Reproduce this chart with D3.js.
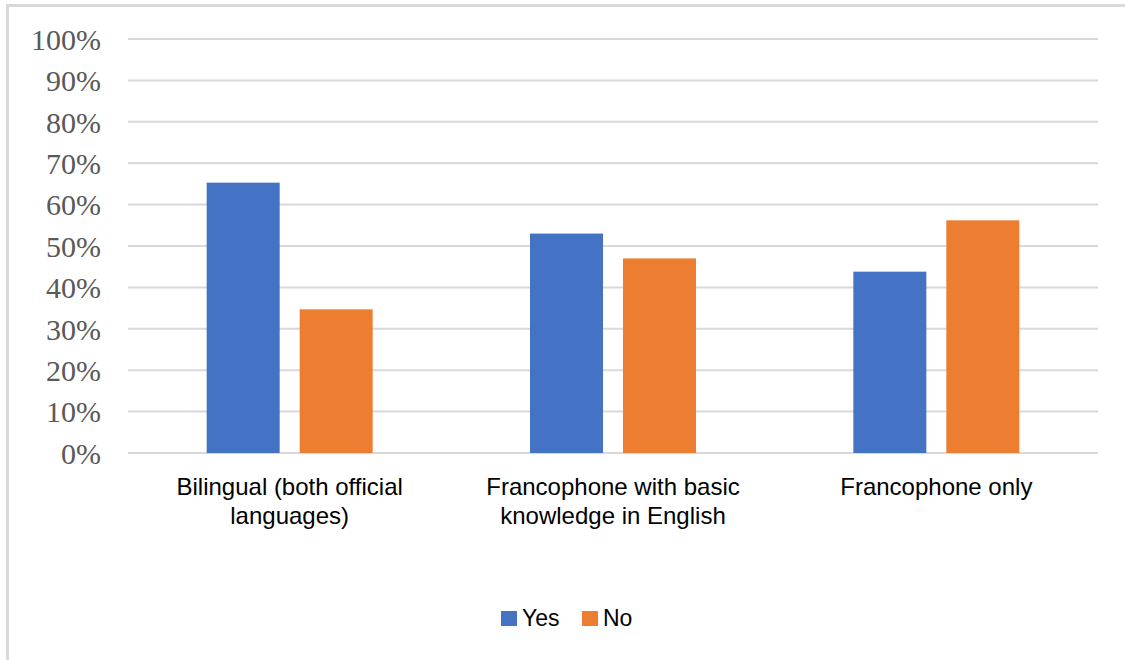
<!DOCTYPE html>
<html>
<head>
<meta charset="utf-8">
<script src="https://cdn.jsdelivr.net/npm/d3@7"></script>
<style>
  body { margin: 0; background: #fff; }
</style>
</head>
<body>
<div id="chart"></div>
<script>
const categories = [
  ['Bilingual (both official', 'languages)'],
  ['Francophone with basic', 'knowledge in English'],
  ['Francophone only']
]
const series = ['Yes', 'No']
const yesValues = [65.3, 53.0, 43.8]
const noValues = [34.7, 47.0, 56.2]
const yTicks = [0, 10, 20, 30, 40, 50, 60, 70, 80, 90, 100]
const colors = ['#4472c4', '#ed7d31']

const width = 1125, height = 660
const margin = { top: 39, left: 128, right: 27, bottom: 207 }

const svg = d3.select('#chart').append('svg')
  .attr('width', width)
  .attr('height', height)

// frame (only top and left edges show)
svg.append('line').attr('x1', 7).attr('x2', width).attr('y1', 5.5).attr('y2', 5.5)
  .attr('stroke', '#d9d9d9').attr('stroke-width', 3)
svg.append('line').attr('x1', 7.5).attr('x2', 7.5).attr('y1', 4).attr('y2', height)
  .attr('stroke', '#d9d9d9').attr('stroke-width', 3)

const x = d3.scaleBand()
  .domain(d3.range(categories.length))
  .range([margin.left, width - margin.right])

const y = d3.scaleLinear()
  .domain([0, 100])
  .range([height - margin.bottom, margin.top])

const x1 = d3.scaleBand()
  .domain(series)
  .range([0, x.bandwidth()])
  .paddingInner(0.215)
  .paddingOuter(0.846)

// gridlines
svg.append('g').selectAll('line')
  .data(yTicks).enter()
  .append('line')
  .attr('x1', margin.left)
  .attr('x2', width - margin.right)
  .attr('y1', d => y(d))
  .attr('y2', d => y(d))
  .attr('stroke', '#d9d9d9')
  .attr('stroke-width', 2)

// y labels
svg.append('g').selectAll('text')
  .data(yTicks).enter()
  .append('text')
  .attr('x', 101)
  .attr('y', d => y(d))
  .attr('dy', '0.36em')
  .attr('text-anchor', 'end')
  .attr('font-family', '"Liberation Serif", "Times New Roman", serif')
  .attr('font-size', 30)
  .attr('fill', '#595959')
  .text(d => d + '%')

// bars
const rows = categories.map((c, i) => ({ i, Yes: yesValues[i], No: noValues[i] }))
const groups = svg.append('g').selectAll('g')
  .data(rows).enter()
  .append('g')
  .attr('transform', d => 'translate(' + x(d.i) + ',0)')

groups.selectAll('rect')
  .data(d => series.map(s => ({ s, v: d[s] })))
  .enter().append('rect')
  .attr('x', d => x1(d.s))
  .attr('width', x1.bandwidth())
  .attr('y', d => y(d.v))
  .attr('height', d => y(0) - y(d.v))
  .attr('fill', (d, i) => colors[i])

// category labels
const catText = svg.append('g').selectAll('text')
  .data(categories).enter()
  .append('text')
  .attr('text-anchor', 'middle')
  .attr('font-family', '"Liberation Sans", Arial, sans-serif')
  .attr('font-size', 24)
  .attr('fill', '#000')

catText.selectAll('tspan')
  .data((d, i) => d.map(t => ({ t, i })))
  .enter().append('tspan')
  .attr('x', d => x(d.i) + x.bandwidth() / 2)
  .attr('y', (d, j) => 495 + j * 29)
  .text(d => d.t)

// legend
const legend = svg.append('g').attr('transform', 'translate(501,611)')
const legendX = [0, 81]
series.forEach((s, i) => {
  legend.append('rect')
    .attr('x', legendX[i]).attr('y', 0)
    .attr('width', 16).attr('height', 15)
    .attr('fill', colors[i])
  legend.append('text')
    .attr('x', legendX[i] + 21).attr('y', 15)
    .attr('font-family', '"Liberation Sans", Arial, sans-serif')
    .attr('font-size', 23)
    .attr('fill', '#000')
    .text(s)
})
</script>
</body>
</html>
